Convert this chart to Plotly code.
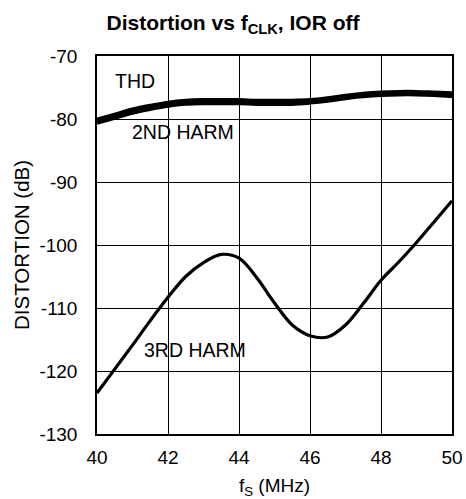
import plotly.graph_objects as go

freq = [40, 40.5, 41, 41.5, 42, 42.5, 43, 43.5, 44, 44.5, 45, 45.5, 46, 46.5, 47, 47.5, 48, 48.5, 49, 49.5, 50]
thd = [-80.1, -79.3, -78.5, -77.9, -77.4, -77.1, -77.0, -77.0, -77.0, -77.1, -77.1, -77.1, -77.0, -76.7, -76.3, -76.0, -75.8, -75.7, -75.7, -75.8, -75.9]
harm2 = [-80.6, -79.8, -79.0, -78.4, -77.9, -77.6, -77.5, -77.5, -77.5, -77.6, -77.6, -77.6, -77.4, -77.1, -76.7, -76.4, -76.2, -76.1, -76.1, -76.2, -76.4]
harm3 = [-123.5, -119.7, -115.9, -112.0, -108.3, -105.0, -102.8, -101.5, -102.1, -105.2, -109.2, -112.7, -114.4, -114.6, -112.7, -109.3, -105.6, -102.7, -99.6, -96.3, -93.0]
xticks = [40, 42, 44, 46, 48, 50]
yticks = [-130, -120, -110, -100, -90, -80, -70]

fig = go.Figure()
for ys in (thd, harm2):
    fig.add_trace(go.Scatter(x=freq, y=ys, mode="lines", line=dict(color="black", width=4, shape="spline"), showlegend=False))
fig.add_trace(go.Scatter(x=freq, y=harm3, mode="lines", line=dict(color="black", width=3.2, shape="spline"), showlegend=False))

fam = "Liberation Sans, Arial, sans-serif"
font = dict(family=fam, size=19, color="black")
afont = dict(family=fam, size=19.5, color="black")
tfont = dict(family=fam, size=20.5, color="black")
fig.update_layout(
    width=466, height=499,
    margin=dict(l=97, r=14, t=56, b=65),
    paper_bgcolor="white", plot_bgcolor="white",
    font=font,
    title=dict(text="<b>Distortion vs f<sub>CLK</sub>, IOR off</b>", x=0.5, xanchor="center", y=0.955, yanchor="middle",
               font=dict(family=fam, size=21, color="black")),
    xaxis=dict(range=[40, 50], tickvals=xticks, ticktext=[str(v) for v in xticks], showgrid=True, gridcolor="black", gridwidth=1,
               showline=True, linecolor="black", linewidth=1.5, mirror=True, ticks="", zeroline=False,
               ticklabelstandoff=5, tickfont=font, automargin=False,
               title=dict(text="f<sub>S</sub> (MHz)", standoff=16, font=font)),
    yaxis=dict(range=[-130, -70], tickvals=yticks, ticktext=[str(v) for v in yticks], showgrid=True, gridcolor="black", gridwidth=1,
               showline=True, linecolor="black", linewidth=1.5, mirror=True, ticks="", zeroline=False,
               ticklabelstandoff=14, tickfont=font, automargin=False,
               title=dict(text="DISTORTION (dB)", standoff=4, font=tfont)),
)
fig.add_annotation(x=40.45, y=-74.0, text="THD", showarrow=False, xanchor="left", font=afont)
fig.add_annotation(x=40.93, y=-82.0, text="2ND HARM", showarrow=False, xanchor="left", font=afont)
fig.add_annotation(x=41.28, y=-116.6, text="3RD HARM", showarrow=False, xanchor="left", font=afont)
fig.write_html("out.html", config={"displayModeBar": False}, post_script="document.body.style.margin='0';")
